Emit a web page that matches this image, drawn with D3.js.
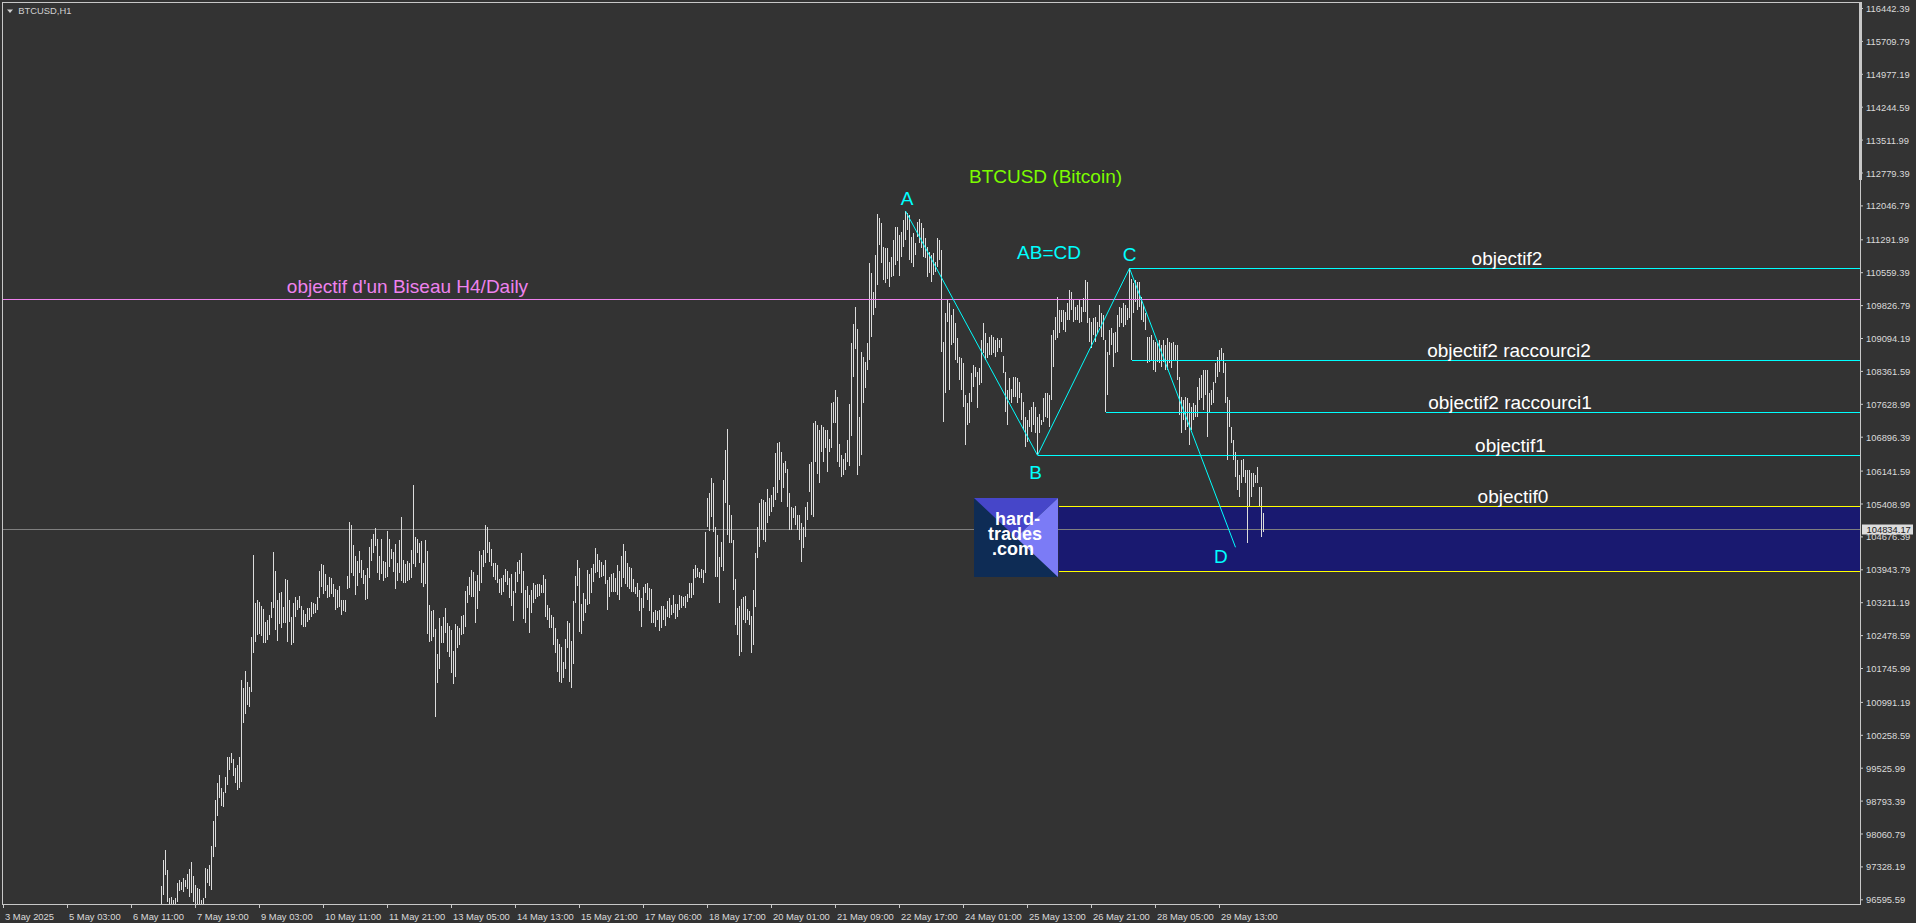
<!DOCTYPE html>
<html><head><meta charset="utf-8">
<script src="https://cdn.jsdelivr.net/npm/d3@7"></script>
<style>
html,body{margin:0;padding:0;background:#333333;overflow:hidden}
svg{display:block}
text{font-family:"Liberation Sans",Arial,sans-serif}
</style></head><body>
<svg id="chart" width="1916" height="923"></svg>
<script>
// ---------------- DATA ----------------
const symbolTitle = "BTCUSD,H1";
const chartTitle = "BTCUSD (Bitcoin)";
const timeLabelBars = [0,32,64,96,128,160,192,224,256,288,320,352,384,416,448,480,512,544,576,608];
const timeLabels = ["3 May 2025","5 May 03:00","6 May 11:00","7 May 19:00","9 May 03:00","10 May 11:00","11 May 21:00","13 May 05:00","14 May 13:00","15 May 21:00","17 May 06:00","18 May 17:00","20 May 01:00","21 May 09:00","22 May 17:00","24 May 01:00","25 May 13:00","26 May 21:00","28 May 05:00","29 May 13:00"];
const priceTicks = [116442.39,115709.79,114977.19,114244.59,113511.99,112779.39,112046.79,111291.99,110559.39,109826.79,109094.19,108361.59,107628.99,106896.39,106141.59,105408.99,104676.39,103943.79,103211.19,102478.59,101745.99,100991.19,100258.59,99525.99,98793.39,98060.79,97328.19,96595.59];
const priceMin = 96595.59, priceMax = 116442.39;

// hourly bar highs / lows (bar index 0 = first bar on the left)
const highs = [
96310,96240,96180,96220,96150,96060,95980,96030,96110,96020,
95890,95760,95640,95580,95470,95390,95520,95610,95480,95320,
95180,95060,94950,95080,95220,95310,95170,95020,94880,94720,
94560,94430,94610,94780,94690,94540,94470,94620,94810,94930,
95010,95120,94960,94790,94650,94740,94880,95040,95230,95410,
95350,95220,95090,94930,94810,94900,95080,95270,95460,95620,
95780,95700,95560,95480,95650,95840,96010,96160,96270,96350,
96240,96130,96050,96190,96320,96410,96360,96230,96300,
96888,
97468,97691,97245,96622,96644,96577,96622,96955,97022,96977,
97067,97022,97156,97268,97423,97111,96911,96844,96822,96577,
96622,97290,97268,97357,97779,98337,98804,99182,99361,99071,
98982,99316,99762,99762,99851,99718,99517,99584,99762,101476,
101298,101677,101431,101320,102434,104261,103191,103258,103213,103124,
103058,102768,102813,102924,103213,104327,103904,103258,103414,103436,
103102,103726,103703,103258,102880,103191,103325,103258,103347,103124,
103035,102946,103080,103080,103213,103191,103169,103325,103904,104060,
104038,103837,103592,103770,103748,103614,103503,103481,103570,103258,
103258,103258,103792,104995,104928,104483,104238,104127,104350,104149,
103926,103815,103971,104439,104616,104728,104862,104616,104238,104616,
104127,104105,104795,104616,104394,104327,104505,104082,104594,105107,
104149,104060,104127,104082,104372,105819,104661,104616,104527,104572,
104082,104594,104350,103146,103013,103035,102612,102056,102857,102679,
102880,103080,102746,102679,102590,102122,102724,102679,102635,102902,
102924,103459,103570,103770,103926,103882,103681,103815,104350,104261,
104372,104928,104884,104549,104394,104082,104082,104038,103726,103748,
103815,103948,103904,103748,103837,103459,103882,104105,104149,104305,
103904,103481,103570,103370,103481,103637,103592,103614,103614,103592,
103815,103726,103146,103080,102924,102880,102635,102390,102278,102211,
101877,102390,102791,102746,102345,103236,103792,104149,103971,103169,
103414,103280,103926,103837,103971,104060,104416,104283,104149,104105,
104038,104149,103703,103770,103837,103859,103748,104038,103904,104238,
104505,104350,104082,103993,103971,103726,103547,103637,103481,103303,
103547,103614,103637,103525,103503,102991,103035,103013,103035,103124,
103124,103058,103236,103303,103146,103370,103169,103169,103370,103347,
103325,103347,103392,103637,103637,103948,104038,103971,103882,103948,
103926,104772,105530,105641,105975,105864,104884,104705,104216,104549,
105930,106599,107066,105374,105151,104594,103726,103080,103124,103280,
103325,103347,103058,103013,102902,103481,104305,104884,105418,105507,
105485,105440,105730,105530,105596,105775,106532,106755,106777,106554,
106309,106354,106175,105641,105329,105307,105351,105151,105151,104973,
104884,105329,105440,106287,106331,107200,107244,107155,107044,107155,
107111,107044,107044,106844,107645,107667,107935,107779,106732,106488,
106398,106532,106821,107623,108981,109404,109783,109293,107333,108781,
108670,108558,108981,110763,110540,110117,110941,111854,111765,111654,
111120,111097,111097,110785,110897,111275,111565,111565,111387,111454,
111721,111921,111877,111832,111342,111431,111208,111676,111743,111654,
111543,111320,111120,111008,110941,110986,110785,111320,111275,111053,
109004,109650,109939,109872,109605,109739,109427,109093,108670,108648,
108536,107823,107645,107868,108313,108491,108447,108335,108424,109048,
109427,109204,108981,109115,109160,109115,109048,109093,109048,109093,
108692,108335,107935,108202,107957,108224,108224,108202,108113,107868,
107667,107333,107267,107489,107556,107667,107556,107333,107400,107267,
107757,107868,107868,107823,109160,109271,109561,110006,109716,109716,
109716,109672,109872,110162,110117,109939,109783,109828,109939,109783,
109983,110384,110340,109538,109449,109538,109561,109449,109828,109650,
109605,109048,108781,109271,109315,109204,109226,109605,109783,109761,
109872,109828,109761,110646,110406,110317,110384,110340,110340,110006,
109828,109650,109115,109115,109160,109048,109004,108981,109048,108937,
109048,108937,109093,109004,108981,109004,108937,108937,108224,107779,
107712,107779,107757,107645,107556,107645,107601,108001,108202,108269,
108380,108380,108380,107868,107935,108113,108536,108670,108826,108870,
108759,108536,107779,107712,107111,106821,106554,106376,106042,106376,
106398,106153,106153,106153,106086,106086,106042,106220,105775,105775,105196
];
const lows = [
95980,95920,95890,95900,95810,95760,95700,95740,95790,95690,
95560,95430,95350,95280,95150,95090,95230,95290,95150,95010,
94860,94770,94640,94790,94920,94990,94830,94700,94560,94400,
94230,94120,94300,94450,94380,94220,94160,94300,94490,94620,
94700,94800,94640,94480,94350,94430,94560,94720,94910,95090,
95030,94900,94760,94620,94500,94590,94760,94950,95130,95300,
95450,95380,95240,95170,95330,95520,95690,95840,95950,96020,
95920,95800,95730,95870,96000,96080,96040,95910,95980,
96354,
96689,97134,96532,96421,96421,96354,96421,96532,96778,96800,
96755,96866,96822,96644,96733,96532,96466,96466,96421,96354,
96399,96622,96955,96888,96800,97535,97757,98447,98849,98670,
98648,98960,99138,99472,99628,99338,99182,99027,99071,99204,
100519,100719,100920,100875,101209,102078,102322,102479,102501,102456,
102300,102300,102367,102479,102857,103080,102590,102345,102724,102635,
102746,102746,102322,102768,102256,102300,102880,103035,103080,102702,
102657,102657,102768,102813,102880,102946,102968,103035,103303,103547,
103392,103459,103303,103325,103392,103325,103035,103080,103102,102924,
103013,102991,103503,103525,103859,103792,103370,103570,103859,103748,
103614,103258,103280,103748,104127,104305,104461,103859,103703,103837,
103681,103748,103770,103993,104171,103882,103503,103681,103859,103681,
103637,103637,103681,103703,103748,104060,103993,104305,104082,103637,
103547,103614,102501,102322,102345,102434,100652,101409,101721,102300,
102300,102523,102100,101989,101632,101387,101543,102189,102256,102479,
102501,102657,103191,103370,103325,103325,102746,103058,103459,103637,
103993,104082,104305,104105,104015,103770,103703,103637,103414,103370,
103436,103659,103592,103303,103124,102791,103414,103659,103837,103414,
102835,102746,103080,102523,102968,103191,103280,103325,103347,103414,
103414,102880,102813,102635,102635,102256,102078,101654,101431,101409,
101521,101721,102189,101431,101298,101832,103191,103570,102546,102501,
102791,102968,103146,103169,103414,103659,103859,103882,103748,103770,
103792,103614,103035,103325,103436,103436,103436,103370,103258,103547,
103748,103614,103547,103503,103436,103436,103392,103325,103013,102657,
103080,103414,103258,103013,102746,102746,102657,102813,102568,102635,
102813,102679,102880,102857,102924,102968,102835,102880,103035,103080,
103124,103080,103213,103303,103303,103370,103748,103770,103748,103748,
103637,103859,104884,104795,105107,104772,103770,103770,103191,103993,
103904,105418,104705,104527,104527,103481,102702,102479,102011,102100,
102813,102746,102813,102702,102078,102256,103102,104194,104439,104817,
104594,104549,104973,105129,105218,105329,105485,105641,105930,105440,
105752,106086,105329,104817,104817,105084,104928,104817,104594,104105,
104416,104661,105040,105663,105151,105107,106331,106064,105864,106554,
106331,106644,106109,106554,106644,107200,107200,106331,106220,105998,
106042,106153,106331,106242,106911,108224,108848,106042,106242,106488,
107645,107979,108380,108603,109115,109605,109761,110273,111164,110763,
110384,110317,110406,110228,110451,110473,110719,110808,110473,110897,
111120,111275,111498,110830,110763,110674,110941,111342,111208,111097,
110897,110875,110451,110540,110340,110496,110563,110674,110830,108781,
107222,107868,109449,107935,108937,108981,108603,108536,108157,107935,
107556,106710,107155,107200,107667,108001,108224,107534,108046,108090,
108759,108603,108648,108714,108714,108759,108670,108781,108870,108781,
108313,107445,107155,107712,107645,107779,107779,107645,107757,107267,
107044,106666,106777,107111,107000,107155,106977,106482,106977,107155,
107222,107333,107311,107111,107712,108447,109048,109093,109204,109449,
109271,109226,109494,109494,109716,109449,109494,109494,109427,109449,
109672,109672,109427,109004,108870,109160,109004,109204,109338,109115,
109048,107445,107823,108714,108937,108447,108759,108781,109338,109427,
109338,109382,109494,109538,108603,109650,109894,109716,109783,109494,
109449,109271,108536,108558,108603,108380,108335,108558,108536,108447,
108558,108380,108380,108536,108424,108603,108603,108157,107378,106977,
107267,107044,107111,106710,107044,107267,107333,107333,107712,107757,
107489,107823,106888,107422,107601,107645,108090,108224,108335,108603,
108313,107645,106376,107111,106755,106376,105998,105708,105552,105864,
105998,105864,104527,105329,105552,105775,105864,105864,105329,104661,104772
];
const lastPrice = 104834.17;

// AB=CD pattern
const patternNames = ["A","B","C","D"];
const patternBars = [451,517,563,616];
const patternPrices = [111921,106482,110646,104434];
const patternTitle = "AB=CD";

// target levels
const levelNames = ["objectif2","objectif2 raccourci2","objectif2 raccourci1","objectif1","objectif0"];
const levelPrices = [110646,108598,107440,106482,105347];
const levelStartBars = [563,564,551,517,527.5];
const levelKinds = ["cyan","cyan","cyan","cyan","yellow"];

const biseauLabel = "objectif d'un Biseau H4/Daily";
const biseauPrice = 109956;
const zonePrices = [103906,105347];
const zoneStartBar = 527.5;
const logoLines = ["hard-","trades",".com"];

// ---------------- LAYOUT ----------------
const W = 1916, H = 923;
const L = 2.5, R = 1860.5, T = 2.5, B = 904.5;
const COL = {bg:"#333333", frame:"#c8c8c8", bar:"#dcdcdc", axis:"#dadada", cyan:"#00ffff",
  yellow:"#ffff00", violet:"#ee82ee", green:"#7cfc00", zone:"#191970", bid:"#7f7f7f", white:"#ffffff"};
const levelLabelCx = [1507,1509,1510,1510.5,1513];

const svg = d3.select("#chart");
svg.append("rect").attr("width",W).attr("height",H).attr("fill",COL.bg);

const x = d3.scaleLinear().domain([0,630]).range([3.5,1263.5]);
const y = d3.scaleLinear().domain([priceMin,priceMax]).range([899.3,8]);
const py = v => Math.round(y(v)) + 0.5;

svg.append("defs").append("clipPath").attr("id","plot")
  .append("rect").attr("x",L).attr("y",T).attr("width",R-L).attr("height",B-T);
const plot = svg.append("g").attr("clip-path","url(#plot)");

// zone
plot.append("rect")
  .attr("x", x(zoneStartBar)).attr("y", py(zonePrices[1]))
  .attr("width", R - x(zoneStartBar)).attr("height", py(zonePrices[0]) - py(zonePrices[1]))
  .attr("fill", COL.zone);

// bid line
plot.append("line").attr("x1",L).attr("x2",R).attr("y1",py(lastPrice)).attr("y2",py(lastPrice))
  .attr("stroke",COL.bid).attr("stroke-width",1);

// bars
const idx = d3.range(highs.length);
plot.append("g").attr("shape-rendering","crispEdges").selectAll("line").data(idx).join("line")
  .attr("x1", i => x(i)).attr("x2", i => x(i))
  .attr("y1", i => Math.round(y(highs[i])))
  .attr("y2", i => Math.max(Math.round(y(lows[i])), Math.round(y(highs[i])) + 1))
  .attr("stroke", COL.bar).attr("stroke-width",1);

// biseau line
plot.append("line").attr("x1",L).attr("x2",R).attr("y1",py(biseauPrice)).attr("y2",py(biseauPrice))
  .attr("stroke",COL.violet).attr("stroke-width",1).attr("shape-rendering","crispEdges");

// levels
levelPrices.forEach((p,k) => {
  plot.append("line").attr("x1", x(levelStartBars[k])).attr("x2", R)
    .attr("y1", py(p)).attr("y2", py(p))
    .attr("stroke", COL[levelKinds[k]]).attr("stroke-width",1).attr("shape-rendering","crispEdges");
});
// zone bottom yellow
plot.append("line").attr("x1", x(zoneStartBar)).attr("x2", R)
  .attr("y1", py(zonePrices[0])).attr("y2", py(zonePrices[0]))
  .attr("stroke", COL.yellow).attr("stroke-width",1).attr("shape-rendering","crispEdges");

// zigzag
const pts = patternBars.map((b,k) => [x(b), y(patternPrices[k])]);
plot.append("path").attr("d", d3.line()(pts)).attr("fill","none")
  .attr("stroke",COL.cyan).attr("stroke-width",1);

// text labels
const txt = (s, xx, yy, col, size, anchor, weight) => svg.append("text").text(s)
  .attr("x",xx).attr("y",yy).attr("fill",col).attr("font-size",size)
  .attr("text-anchor",anchor||"middle").attr("font-weight",weight||"normal");

const labOff = [[1.5,-5.7],[-2,24],[0,-7.7],[-14.7,15.7]];
patternNames.forEach((n,k) => txt(n, pts[k][0]+labOff[k][0], pts[k][1]+labOff[k][1], COL.cyan, 19));
txt(patternTitle, 1049, 258.5, COL.cyan, 19);
txt(chartTitle, 1045.5, 182.5, COL.green, 19);
txt(biseauLabel, 407.5, y(biseauPrice)-6.5, COL.violet, 19);
levelNames.forEach((n,k) => txt(n, levelLabelCx[k], y(levelPrices[k]) - 3, COL.white, 19));

// logo
const lg = svg.append("g");
const lx0 = 974, ly0 = 498, lx1 = 1058, ly1 = 577, lcx = (lx0+lx1)/2, lcy = (ly0+ly1)/2;
lg.append("rect").attr("x",lx0).attr("y",ly0).attr("width",lx1-lx0).attr("height",ly1-ly0).attr("fill","#0e2c55");
lg.append("polygon").attr("points",`${lx0},${ly0} ${lx1},${ly0} ${lcx},${lcy}`).attr("fill","#4646c9");
lg.append("polygon").attr("points",`${lx1},${ly0} ${lx1},${ly1} ${lcx},${lcy}`).attr("fill","#7b7bf6");
const logoText = lg.append("text").attr("text-anchor","middle").attr("fill","#ffffff")
  .attr("font-size",18).attr("font-weight","bold");
const logoPos = [[1017.5,525],[1015,540],[1013,554.5]];
logoLines.forEach((s,k) => logoText.append("tspan").text(s).attr("x",logoPos[k][0]).attr("y",logoPos[k][1]));

// frame
svg.append("rect").attr("x",L).attr("y",T).attr("width",R-L).attr("height",B-T)
  .attr("fill","none").attr("stroke",COL.frame).attr("stroke-width",1);
svg.append("rect").attr("x",1859).attr("y",2).attr("width",3).attr("height",178).attr("fill",COL.frame);

// y axis
const yAxis = d3.axisRight(y).tickValues(priceTicks).tickFormat(d => d.toFixed(2)).tickSize(3).tickPadding(3);
const gy = svg.append("g").attr("transform",`translate(${R-0.5},0)`).call(yAxis);
gy.select(".domain").remove();
gy.selectAll("line").attr("stroke",COL.frame);
gy.selectAll("text").attr("fill",COL.axis).attr("font-size",9.4).attr("dy","0.38em")
  .attr("font-family","'Liberation Sans',Arial,sans-serif");

// x axis
const xAxis = d3.axisBottom(x).tickValues(timeLabelBars).tickFormat((d,i) => timeLabels[i]).tickSize(4);
const gx = svg.append("g").attr("transform",`translate(-0.5,${B-0.5})`).call(xAxis);
gx.select(".domain").remove();
gx.selectAll("line").attr("stroke",COL.frame);
gx.selectAll("text").attr("fill",COL.axis).attr("font-size",9.4).attr("text-anchor","start")
  .attr("x",1.5).attr("y",16).attr("dy",0).attr("font-family","'Liberation Sans',Arial,sans-serif");

// last price label
const lpY = y(lastPrice);
svg.append("rect").attr("x",1862).attr("y",Math.round(lpY)-4.5).attr("width",51).attr("height",10).attr("fill","#dcdcdc");
svg.append("text").text(lastPrice.toFixed(2)).attr("x",1866.5).attr("y",lpY+3.6)
  .attr("fill","#202020").attr("font-size",9.4);

// title top-left
svg.append("polygon").attr("points","7,9.5 13,9.5 10,13").attr("fill","#d0d0d0");
svg.append("text").text(symbolTitle).attr("x",18.3).attr("y",14).attr("fill","#d0d0d0").attr("font-size",9.4);
</script>
</body></html>
